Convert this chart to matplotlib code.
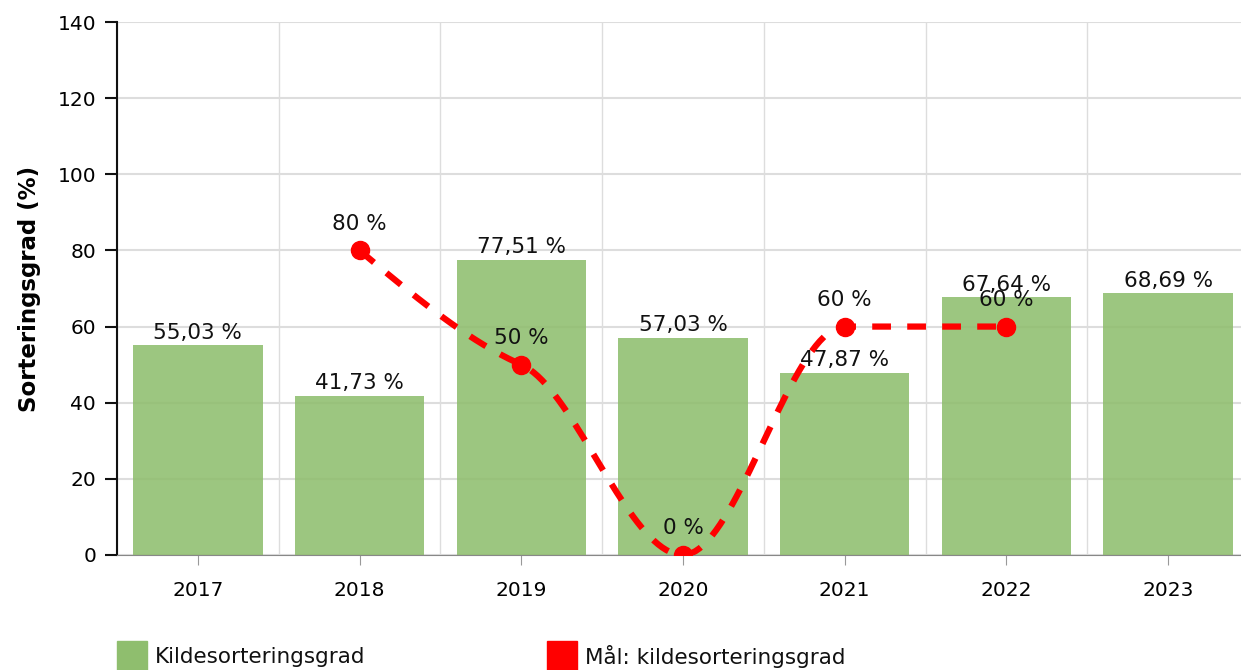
import matplotlib.pyplot as plt
import matplotlib.patches as mpatches
import numpy as np

years = ["2017", "2018", "2019", "2020", "2021", "2022", "2023"]
sortering = [55.03, 41.73, 77.51, 57.03, 47.87, 67.64, 68.69]
maal_years = [1, 2, 3, 4, 5]  # indeks for 2018-2022
maal = [80, 50, 0, 60, 60]

bar_color = "#8fbe6e"
line_color = "#ff0000"


def fmt(v):
    if float(v).is_integer():
        return "%d %%" % v
    return ("%.2f %%" % v).replace(".", ",")


def glatt(xs, ys, n=40):
    # hermite-kurve gjennom punktene (flat i topp/bunn)
    xs = np.asarray(xs, float)
    ys = np.asarray(ys, float)
    s = np.diff(ys) / np.diff(xs)
    m = np.zeros(len(xs))
    for i in range(1, len(xs) - 1):
        if s[i - 1] * s[i] > 0:
            m[i] = s[i - 1] * s[i] / (s[i - 1] + s[i])
    m[0] = (3 * s[0] - m[1]) / 2
    m[-1] = (3 * s[-1] - m[-2]) / 2
    t = np.linspace(0, 1, n)
    h00 = 2 * t ** 3 - 3 * t ** 2 + 1
    h10 = t ** 3 - 2 * t ** 2 + t
    h01 = -2 * t ** 3 + 3 * t ** 2
    h11 = t ** 3 - t ** 2
    px, py = [], []
    for i in range(len(xs) - 1):
        h = xs[i + 1] - xs[i]
        px.extend(xs[i] + t * h)
        py.extend(h00 * ys[i] + h10 * h * m[i] + h01 * ys[i + 1] + h11 * h * m[i + 1])
    return px, py


plt.rcParams["font.family"] = "DejaVu Sans"

fig = plt.figure(figsize=(12.41, 6.70), dpi=100)
ax = fig.add_axes([117 / 1241, 115 / 670, 1132 / 1241, 533 / 670])

x = np.arange(len(years))
ax.bar(x, sortering, width=0.8, color=bar_color, alpha=0.88, zorder=2)
for xi, v in zip(x, sortering):
    ax.annotate(fmt(v), (xi, v), xytext=(0, 2), textcoords="offset points",
                ha="center", va="bottom", fontsize=15.5, color="#111111", zorder=5)

sx, sy = glatt(maal_years, maal)
ax.plot(sx, sy, color=line_color, lw=4.5, dashes=(3, 2.6), zorder=3,
        solid_capstyle="butt", dash_capstyle="butt")
ax.plot(maal_years, maal, "o", color=line_color, ms=13, zorder=4)
for xi, v in zip(maal_years, maal):
    ax.annotate(fmt(v), (xi, v), xytext=(0, 12), textcoords="offset points",
                ha="center", va="bottom", fontsize=15.5, color="#111111", zorder=6)

ax.set_xlim(-0.5, 6.5)
ax.set_ylim(0, 140)
ax.set_yticks(range(0, 141, 20))
ax.set_xticks(x)
ax.set_xticklabels(years)
ax.set_xticks(np.arange(-0.5, 7, 1), minor=True)
ax.grid(True, which="minor", axis="x", color="#dddddd", lw=1, zorder=0)
ax.grid(True, which="major", axis="y", color="#dddddd", lw=1.5, zorder=0)
ax.tick_params(axis="x", which="minor", length=0)
ax.tick_params(axis="x", which="major", length=7, color="#999999", labelsize=14.5, pad=12)
ax.tick_params(axis="y", length=9, width=1.5, color="#111111", labelsize=14.5, pad=6)
for s in ["top", "right"]:
    ax.spines[s].set_visible(False)
ax.spines["left"].set_linewidth(1.5)
ax.spines["left"].set_color("#111111")
ax.spines["bottom"].set_color("#888888")
ax.spines["bottom"].set_zorder(3)
ax.set_ylabel("Sorteringsgrad (%)", fontsize=16.5, fontweight="bold", labelpad=12)

# forklaring under diagrammet
fig.patches.append(mpatches.Rectangle((117 / 1241, -1 / 670), 30 / 1241, 30 / 670,
                                      transform=fig.transFigure, color=bar_color))
fig.text(155 / 1241, 13 / 670, "Kildesorteringsgrad", fontsize=15.5, va="center", color="#111111")
fig.patches.append(mpatches.Rectangle((547 / 1241, -1 / 670), 30 / 1241, 30 / 670,
                                      transform=fig.transFigure, color=line_color))
fig.text(585 / 1241, 13 / 670, "Mål: kildesorteringsgrad", fontsize=15.5, va="center", color="#111111")

fig.savefig("out.png", dpi=100)
